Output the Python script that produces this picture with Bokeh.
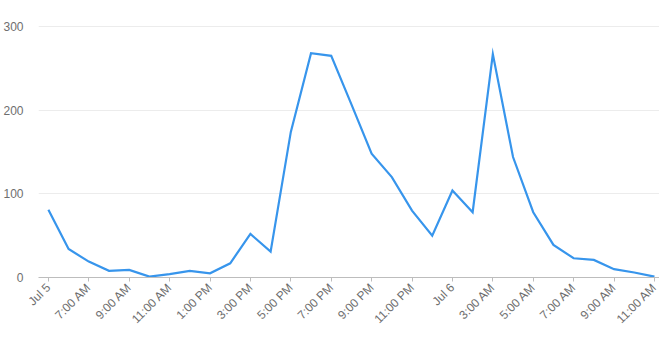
from bokeh.plotting import figure
from bokeh.models import FixedTicker, ColumnDataSource, Range1d
from bokeh.embed import file_html
from bokeh.resources import INLINE
import math

# hourly points, Jul 5 5:00 AM -> Jul 6 11:00 AM
hours = list(range(31))
values = [81, 34, 19, 8, 9, 1, 4, 8, 5, 17, 52, 31, 174, 268, 265, 207, 148,
          120, 80, 50, 104, 78, 267, 144, 78, 39, 23, 21, 10, 6, 1]
tick_pos = list(range(0, 31, 2))
tick_labels = ["Jul 5", "7:00 AM", "9:00 AM", "11:00 AM", "1:00 PM", "3:00 PM",
               "5:00 PM", "7:00 PM", "9:00 PM", "11:00 PM", "Jul 6", "3:00 AM",
               "5:00 AM", "7:00 AM", "9:00 AM", "11:00 AM"]
y_ticks = [0, 100, 200, 300]

src = ColumnDataSource(dict(x=hours, y=values))

p = figure(width=659, height=340, output_backend="svg", toolbar_location=None,
           min_border_left=37, min_border_right=0, min_border_top=24,
           min_border_bottom=63,
           x_range=Range1d(-0.49, 30.25), y_range=Range1d(0, 302.4))
p.outline_line_color = None
p.background_fill_color = "white"
p.border_fill_color = "white"

p.line("x", "y", source=src, line_color="#3795ec", line_width=2.2,
       line_join="miter")

p.xgrid.grid_line_color = None
p.ygrid.grid_line_color = "#ececec"
p.ygrid.grid_line_width = 1
p.ygrid.ticker = FixedTicker(ticks=y_ticks)

xa = p.xaxis[0]
xa.ticker = FixedTicker(ticks=tick_pos)
xa.major_label_overrides = {t: l for t, l in zip(tick_pos, tick_labels)}
xa.major_label_orientation = math.pi / 4
xa.axis_line_color = "#bdbdbd"
xa.major_tick_line_color = "#bdbdbd"
xa.major_tick_out = 4
xa.major_tick_in = 0
xa.minor_tick_line_color = None
xa.major_label_standoff = 4
xa.major_label_text_font = "Liberation Sans"
xa.major_label_text_font_size = "12px"
xa.major_label_text_color = "#6e6e6e"

ya = p.yaxis[0]
ya.ticker = FixedTicker(ticks=y_ticks)
ya.axis_line_color = None
ya.major_tick_line_color = None
ya.minor_tick_line_color = None
ya.major_label_standoff = 9
ya.major_label_text_font = "Liberation Sans"
ya.major_label_text_font_size = "12px"
ya.major_label_text_color = "#6e6e6e"

open("out.html", "w").write(file_html(p, INLINE))
